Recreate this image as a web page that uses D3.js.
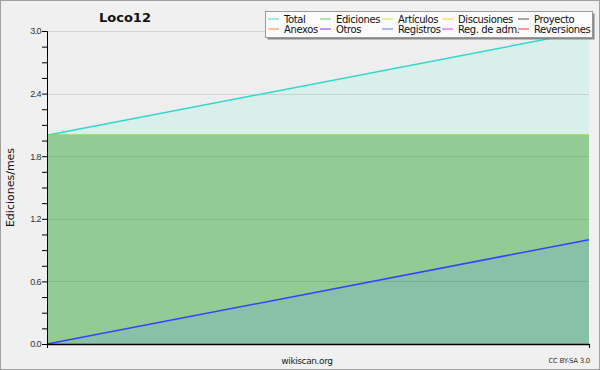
<!DOCTYPE html>
<html>
<head>
<meta charset="utf-8">
<script src="https://cdn.jsdelivr.net/npm/d3@7"></script>
<style>
  body { margin: 0; background: #f0f0f0; }
  svg { display: block; font-family: 'DejaVu Sans', sans-serif; }
</style>
</head>
<body>
<div class="chart"></div>
<script>
'use strict';

// two months of data
const months = ['2012-01', '2012-02'];
const total = [2, 3];
const ediciones = [2, 2];
const articulos = [2, 2];
const registros = [0, 1];

const yTicks = [0, 0.6, 1.2, 1.8, 2.4, 3.0];

const legendItems = [
  ['Total', '#40e0d0'], ['Ediciones', '#66cc66'], ['Artículos', '#bbee33'],
  ['Discusiones', '#ffcc22'], ['Proyecto', '#555555'],
  ['Anexos', '#ff8833'], ['Otros', '#8833ee'], ['Registros', '#6677ff'],
  ['Reg. de adm.', '#ee33ee'], ['Reversiones', '#ff3333']
];

const WIDTH = 600;
const HEIGHT = 370;
const margin = {top: 31, right: 11, bottom: 26, left: 47};

const svg = d3.select('.chart')
  .append('svg')
    .attr('width', WIDTH)
    .attr('height', HEIGHT);

svg.append('rect')
  .attr('x', 0.5).attr('y', 0.5)
  .attr('width', WIDTH - 1).attr('height', HEIGHT - 1)
  .attr('fill', '#f0f0f0')
  .attr('stroke', '#a0a0a0');

const x = d3.scalePoint()
  .domain(months)
  .range([margin.left, WIDTH - margin.right]);

const y = d3.scaleLinear()
  .domain([0, 3])
  .range([HEIGHT - margin.bottom, margin.top]);

svg.append('rect')
  .attr('x', margin.left).attr('y', margin.top)
  .attr('width', WIDTH - margin.right - margin.left)
  .attr('height', HEIGHT - margin.bottom - margin.top)
  .attr('fill', '#eeeeef');

function area(vals) {
  return d3.area()
    .x((d, i) => x(months[i]))
    .y0(y(0))
    .y1((d) => y(d))(vals);
}

function line(vals) {
  return d3.line()
    .x((d, i) => x(months[i]))
    .y((d) => y(d))(vals);
}

svg.append('path').attr('d', area(total)).attr('fill', '#d9f0ea');
svg.append('path').attr('d', area(ediciones)).attr('fill', '#93cb95');
svg.append('path').attr('d', area(registros)).attr('fill', '#88c1a6');

// grid
svg.append('g')
  .selectAll('line')
  .data(yTicks.slice(1))
  .enter().append('line')
    .attr('x1', margin.left).attr('x2', WIDTH - margin.right)
    .attr('y1', (d) => Math.round(y(d)) + 0.5)
    .attr('y2', (d) => Math.round(y(d)) + 0.5)
    .attr('stroke', 'rgba(0,0,0,0.1)');

svg.append('path').attr('d', line(total))
  .attr('fill', 'none').attr('stroke', '#30d8cc').attr('stroke-width', 1.5);
svg.append('path').attr('d', line(ediciones))
  .attr('fill', 'none').attr('stroke', '#66cc66').attr('stroke-width', 1.5);
svg.append('path').attr('d', line(articulos))
  .attr('fill', 'none').attr('stroke', '#99dd33').attr('stroke-width', 1.2);
svg.append('path').attr('d', line(registros))
  .attr('fill', 'none').attr('stroke', '#3344ff').attr('stroke-width', 1.5);

// axes
const yAxis = svg.append('g')
  .attr('transform', `translate(${margin.left},0)`)
  .call(d3.axisLeft(y)
    .tickValues(d3.range(0, 3.01, 0.15))
    .tickSize(5)
    .tickFormat((d) => {
      const r = Math.round(d * 100) / 100;
      return yTicks.some((t) => Math.abs(t - r) < 1e-6) ? d3.format('.1f')(r) : '';
    }));
yAxis.select('.domain').attr('stroke', '#000');
yAxis.selectAll('line').attr('stroke', '#000');
yAxis.selectAll('text')
  .attr('font-size', 9)
  .attr('letter-spacing', -0.6)
  .attr('fill', '#333')
  .attr('x', -6);

const xAxis = svg.append('g')
  .attr('transform', `translate(0,${HEIGHT - margin.bottom})`)
  .call(d3.axisBottom(x).tickSize(4).tickSizeOuter(0).tickFormat(''));
xAxis.select('.domain').attr('stroke', '#000').attr('stroke-width', 1.5);
xAxis.selectAll('line').attr('stroke', '#000');

// texts
svg.append('text')
  .attr('x', 125).attr('y', 22)
  .attr('text-anchor', 'middle')
  .attr('font-size', 13).attr('font-weight', 'bold')
  .attr('fill', '#111')
  .text('Loco12');

svg.append('text')
  .attr('transform', `translate(14,${(margin.top + HEIGHT - margin.bottom) / 2}) rotate(-90)`)
  .attr('text-anchor', 'middle')
  .attr('font-size', 11)
  .attr('fill', '#111')
  .text('Ediciones/mes');

svg.append('text')
  .attr('x', 307).attr('y', 364)
  .attr('text-anchor', 'middle')
  .attr('font-size', 9)
  .attr('letter-spacing', -0.4)
  .attr('fill', '#222')
  .text('wikiscan.org');

svg.append('text')
  .attr('x', 590).attr('y', 363)
  .attr('text-anchor', 'end')
  .attr('font-size', 7)
  .attr('letter-spacing', -0.3)
  .attr('fill', '#333')
  .text('CC BY-SA 3.0');

// legend
const legend = svg.append('g');
legend.append('rect')
  .attr('x', 267.5).attr('y', 13.5).attr('width', 327).attr('height', 26)
  .attr('fill', '#888');
legend.append('rect')
  .attr('x', 265.5).attr('y', 11.5).attr('width', 327).attr('height', 26)
  .attr('fill', '#fbfbfb')
  .attr('stroke', '#999');

const colX = [268, 320, 382, 442, 518];
const item = legend.selectAll('.item')
  .data(legendItems)
  .enter().append('g')
    .attr('class', 'item')
    .attr('transform', (d, i) => `translate(${colX[i % 5]},${i < 5 ? 19 : 29})`);
item.append('line')
  .attr('x1', 0).attr('x2', 11)
  .attr('stroke', (d) => d[1]);
item.append('text')
  .attr('x', 16).attr('y', 4)
  .attr('font-size', 10)
  .attr('letter-spacing', -0.4)
  .attr('fill', '#111')
  .text((d) => d[0]);
</script>
</body>
</html>
